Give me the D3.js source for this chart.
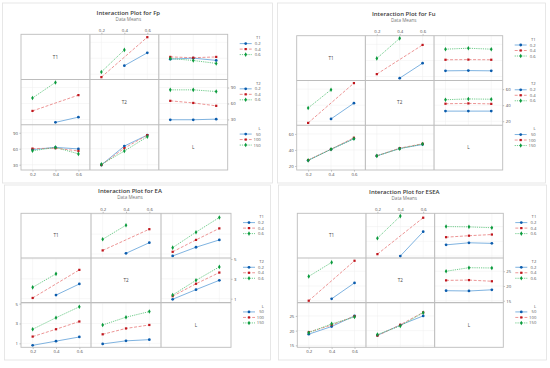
<!DOCTYPE html>
<html>
<head>
<meta charset="utf-8">
<script src="https://cdn.jsdelivr.net/npm/d3@7"></script>
<style>
body { margin: 0; background: #fff; }
text { font-family: "Open Sans", "Noto Sans", sans-serif; }
</style>
</head>
<body>
<div id="chart"></div>
<script>
// factor levels
const factors = ["T1", "T2", "L"];
const levelsT = ["0.2", "0.4", "0.6"];
const levelsL = ["50", "100", "150"];

// Fp: rows = first factor levels, cols = second factor levels (null = not run)
const fpT1T2 = [[null, 46, 70.3], [24.5, null, 99.6], [34.3, 75.7, null]];
const fpT1L = [[58.3, 60.2, 56], [62.5, 61, 62.5], [59.6, 55.8, 50.3]];
const fpT2L = [[29.4, 29.4, 30.6], [65, 61, 55.6], [85.6, 85.6, 82.5]];
const fpTicks = [30, 60, 90];
const fpRange = [20, 105];

// Fu
const fuT1T2 = [[null, 17.9, 36.5], [22.9, null, 59.3], [42.5, 67.5, null]];
const fuT1L = [[27, 27.3, 27], [40.8, 41, 40.8], [54, 55.2, 54]];
const fuT2L = [[32.6, 32.6, 32.6], [41.8, 42.2, 41.6], [46.8, 47.8, 47.4]];
const fuTicks = [20, 40, 60];
const fuRange = [15, 70.8];

// EA
const eaT1T2 = [[null, 1.07, 2.14], [1.36, null, 3.5], [2.48, 3.9, null]];
const eaT1L = [[0.8, 1.68, 2.42], [1.22, 2.42, 3.58], [1.64, 3.2, 4.68]];
const eaT2L = [[0.94, 1.91, 2.85], [1.25, 2.5, 3.63], [1.37, 2.85, 4.2]];
const eaTicks = [1, 3, 5];
const eaRange = [0.6, 5.1];

// ESEA
const eseaT1T2 = [[null, 15.0, 23.25], [15.65, null, 28.0], [21.05, 28.55, null]];
const eseaT1L = [[18.8, 19.5, 19.3], [21.4, 21.9, 22.3], [25.0, 24.9, 24.6]];
const eseaT2L = [[18.4, 18.3, 18.7], [21.9, 22.0, 21.6], [25.0, 26.2, 26.1]];
const eseaTicks = [15, 20, 25];
const eseaRange = [14.35, 29.5];

const W = 550, H = 368;
const markColors = ["#0b5cad", "#c0161d", "#0a9a3c"];
const lineColors = ["#5e9fd8", "#e77a7a", "#4cbf6e"];
const dashes = [null, "3,1.6", "1.2,1"];
const shapes = [d3.symbolCircle, d3.symbolSquare, d3.symbolDiamond];

const svg = d3.select("#chart").append("svg")
    .attr("width", W)
    .attr("height", H);

const panels = [
    {name: "Fp", ox: 0, oy: 0, left: 21, right: 227.7, top: 34.3, bottom: 170, titleY: 13,
        ticks: fpTicks, range: fpRange, t1t2: fpT1T2, t1l: fpT1L, t2l: fpT2L,
        card: [2.5, 3, 270, 180]},
    {name: "Fu", ox: 275, oy: 0, left: 21.7, right: 227.7, top: 35.7, bottom: 170, titleY: 14,
        ticks: fuTicks, range: fuRange, t1t2: fuT1T2, t1l: fuT1L, t2l: fuT2L,
        card: [2.5, 3, 268, 180]},
    {name: "EA", ox: 0, oy: 184, left: 21, right: 231, top: 29.3, bottom: 163.3, titleY: 7,
        ticks: eaTicks, range: eaRange, t1t2: eaT1T2, t1l: eaT1L, t2l: eaT2L,
        card: [4.5, 1, 266, 175]},
    {name: "ESEA", ox: 275, oy: 184, left: 22.3, right: 228.3, top: 29.3, bottom: 163.3, titleY: 8,
        ticks: eseaTicks, range: eseaRange, t1t2: eseaT1T2, t1l: eseaT1L, t2l: eseaT2L,
        card: [3.5, 1, 268, 175]}
];

function transpose(m) {
    return m[0].map((_, j) => m.map(row => row[j]));
}

function levelsOf(i) {
    return i === 2 ? levelsL : levelsT;
}

// table with rows = levels of factor a, cols = levels of factor b
function lookup(p, a, b) {
    if (a === 0 && b === 1) return p.t1t2;
    if (a === 1 && b === 0) return transpose(p.t1t2);
    if (a === 0 && b === 2) return p.t1l;
    if (a === 2 && b === 0) return transpose(p.t1l);
    if (a === 1 && b === 2) return p.t2l;
    return transpose(p.t2l);
}

function styleAxis(g) {
    g.select(".domain").remove();
    g.selectAll(".tick line").attr("stroke", "#777").attr("stroke-width", 0.5);
    g.selectAll(".tick text").attr("fill", "#4a4a4a").style("font-size", "4.3px");
}

function drawPanel(p) {
    const g = svg.append("g").attr("transform", `translate(${p.ox},${p.oy})`);

    g.append("rect")
        .attr("x", p.card[0]).attr("y", p.card[1])
        .attr("width", p.card[2]).attr("height", p.card[3])
        .attr("fill", "#fff")
        .attr("stroke", "#e2e2e2")
        .attr("stroke-width", 0.8);

    const cx = (p.left + p.right) / 2 + 4;
    g.append("text")
        .attr("x", cx).attr("y", p.titleY + 2)
        .attr("text-anchor", "middle")
        .attr("fill", "#3a3a3a")
        .style("font-size", "6px")
        .style("font-weight", 600)
        .text("Interaction Plot for " + p.name);
    g.append("text")
        .attr("x", cx).attr("y", p.titleY + 8.2)
        .attr("text-anchor", "middle")
        .attr("fill", "#777")
        .style("font-size", "4.6px")
        .text("Data Means");

    const cw = (p.right - p.left) / 3;
    const ch = (p.bottom - p.top) / 3;

    for (let r = 0; r < 3; r++) {
        for (let c = 0; c < 3; c++) {
            const x0 = p.left + c * cw;
            const y0 = p.top + r * ch;
            const cell = g.append("g");

            if (r === c) {
                cell.append("text")
                    .attr("x", x0 + cw / 2).attr("y", y0 + ch / 2 + 1.6)
                    .attr("text-anchor", "middle")
                    .attr("fill", "#444")
                    .style("font-size", "4.6px")
                    .text(factors[r]);
                continue;
            }

            const x = d3.scalePoint().domain(levelsOf(c)).range([x0, x0 + cw]).padding(0.5);
            const y = d3.scaleLinear().domain(p.range).range([y0 + ch, y0]);

            // faint grid
            cell.selectAll(".vg").data(levelsOf(c)).join("line")
                .attr("x1", d => x(d)).attr("x2", d => x(d))
                .attr("y1", y0).attr("y2", y0 + ch)
                .attr("stroke", "#efefef").attr("stroke-width", 0.5);
            cell.selectAll(".hg").data(p.ticks).join("line")
                .attr("x1", x0).attr("x2", x0 + cw)
                .attr("y1", d => y(d)).attr("y2", d => y(d))
                .attr("stroke", "#efefef").attr("stroke-width", 0.5);

            const tbl = lookup(p, r, c);
            const line = d3.line().x(d => x(d.lv)).y(d => y(d.v));

            tbl.forEach((row, s) => {
                const pts = levelsOf(c).map((lv, k) => ({lv: lv, v: row[k]}))
                    .filter(d => d.v !== null);
                cell.append("path")
                    .datum(pts)
                    .attr("fill", "none")
                    .attr("stroke", lineColors[s])
                    .attr("stroke-width", 0.8)
                    .attr("stroke-dasharray", dashes[s])
                    .attr("d", line);
                cell.selectAll(".pt" + s).data(pts).join("path")
                    .attr("transform", d => `translate(${x(d.lv)},${y(d.v)})`)
                    .attr("d", d3.symbol().type(shapes[s]).size(s === 1 ? 5 : 6))
                    .attr("fill", markColors[s]);
            });

            // axes
            const fmt = d3.format("~g");
            if (r === 0 && c === 1) {
                g.append("g").attr("transform", `translate(0,${p.top})`)
                    .call(d3.axisTop(x).tickSize(1.5).tickPadding(1)).call(styleAxis);
            }
            if (r === 2 && c !== 1) {
                g.append("g").attr("transform", `translate(0,${p.bottom})`)
                    .call(d3.axisBottom(x).tickSize(1.5).tickPadding(1)).call(styleAxis);
            }
            if (c === 0 && r !== 1) {
                g.append("g").attr("transform", `translate(${p.left},0)`)
                    .call(d3.axisLeft(y).tickValues(p.ticks).tickFormat(fmt).tickSize(1.5).tickPadding(1.5))
                    .call(styleAxis);
            }
            if (c === 2 && r === 1) {
                g.append("g").attr("transform", `translate(${p.right},0)`)
                    .call(d3.axisRight(y).tickValues(p.ticks).tickFormat(fmt).tickSize(1.5).tickPadding(1.5))
                    .call(styleAxis);
            }
        }
    }

    // matrix frame
    g.append("rect")
        .attr("x", p.left).attr("y", p.top)
        .attr("width", p.right - p.left).attr("height", p.bottom - p.top)
        .attr("fill", "none").attr("stroke", "#bdbdbd").attr("stroke-width", 0.9);
    for (let i = 1; i < 3; i++) {
        g.append("line")
            .attr("x1", p.left + i * cw).attr("x2", p.left + i * cw)
            .attr("y1", p.top).attr("y2", p.bottom)
            .attr("stroke", "#bdbdbd").attr("stroke-width", 1.1);
        g.append("line")
            .attr("x1", p.left).attr("x2", p.right)
            .attr("y1", p.top + i * ch).attr("y2", p.top + i * ch)
            .attr("stroke", "#bdbdbd").attr("stroke-width", 1.1);
    }

    // legends, one per row
    for (let r = 0; r < 3; r++) {
        const ly = p.top + r * ch + 5;
        const lg = g.append("g");
        lg.append("text")
            .attr("x", p.right + 33).attr("y", ly)
            .attr("text-anchor", "end")
            .attr("fill", "#555")
            .style("font-size", "4.2px")
            .text(factors[r]);
        levelsOf(r).forEach((lv, s) => {
            const yy = ly + 5.5 * (s + 1) - 1.2;
            lg.append("line")
                .attr("x1", p.right + 12).attr("x2", p.right + 24)
                .attr("y1", yy).attr("y2", yy)
                .attr("stroke", lineColors[s])
                .attr("stroke-width", 0.8)
                .attr("stroke-dasharray", dashes[s]);
            lg.append("path")
                .attr("transform", `translate(${p.right + 18},${yy})`)
                .attr("d", d3.symbol().type(shapes[s]).size(s === 1 ? 5 : 6))
                .attr("fill", markColors[s]);
            lg.append("text")
                .attr("x", p.right + 33).attr("y", yy + 1.5)
                .attr("text-anchor", "end")
                .attr("fill", "#555")
                .style("font-size", "4.2px")
                .text(lv);
        });
    }
}

panels.forEach(drawPanel);
</script>
</body>
</html>
